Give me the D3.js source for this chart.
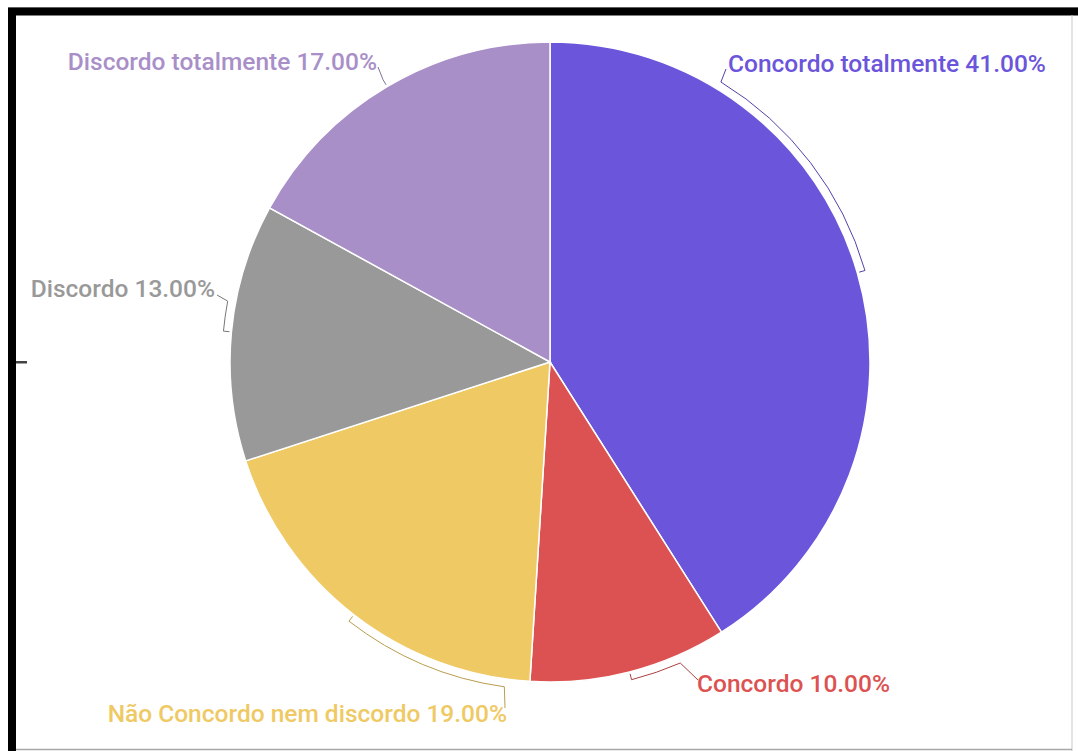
<!DOCTYPE html>
<html>
<head>
<meta charset="utf-8">
<script src="https://cdn.jsdelivr.net/npm/d3@7"></script>
<style>
  html, body { margin: 0; padding: 0; background: #fff; }
  svg { display: block; }
  .lbl { font-family: Roboto, "Noto Sans", sans-serif; font-weight: 500; font-size: 24.5px; }
</style>
</head>
<body>
<svg id="chart" width="1078" height="751"></svg>
<script>
// Survey answers (share of respondents, %)
const categories = [
  "Concordo totalmente",
  "Concordo",
  "Não Concordo nem discordo",
  "Discordo",
  "Discordo totalmente"
];
const values = [41, 10, 19, 13, 17];
const colors = ["#6b55da", "#dc5252", "#efc964", "#999999", "#a98fc8"];

// Label layout: where each leader bracket stops (degrees clockwise from 12 o'clock),
// where the leader meets its label and where the text sits, relative to the pie centre.
const labelLayout = [
  { end: 31.4,  lead: [176, -293], text: [178, -290], anchor: "start" },
  { end: 156.6, lead: [148, 318],  text: [147, 330],  anchor: "start" },
  { end: 188.0, lead: [-45, 346],  text: [-43, 360],  anchor: "end" },
  { end: 280.7, lead: [-333, -67], text: [-335, -65], anchor: "end" },
  { end: 329.4, lead: [-172, -295],text: [-173, -292],anchor: "end" }
];

const W = 1078, H = 751;
const cx = 550, cy = 362, R = 320, rTick = 328;

const svg = d3.select("#chart");

// window frame
svg.append("line").attr("x1", 8).attr("x2", W).attr("y1", 7.5).attr("y2", 7.5)
  .attr("stroke", "#bdbdbd").attr("stroke-width", 1);
svg.append("rect").attr("x", 12).attr("y", 11.5).attr("width", W + 20).attr("height", H + 20)
  .attr("fill", "none").attr("stroke", "#000").attr("stroke-width", 8);
svg.append("rect").attr("x", 1071.5).attr("y", 15).attr("width", 1).attr("height", H)
  .attr("fill", "#c8c8c8");
svg.append("line").attr("x1", 16).attr("x2", 1072).attr("y1", 749.5).attr("y2", 749.5)
  .attr("stroke", "#a8a8a8").attr("stroke-width", 1.5);
svg.append("rect").attr("x", 16).attr("y", 361).attr("width", 11).attr("height", 2.5)
  .attr("fill", "#444");

const g = svg.append("g").attr("transform", `translate(${cx},${cy})`);

const pie = d3.pie().sort(null).value(d => d.value).startAngle(0).endAngle(2 * Math.PI);
const data = categories.map((c, i) => ({ name: c, value: values[i], color: colors[i], layout: labelLayout[i] }));
const arcs = pie(data);

const arcGen = d3.arc().innerRadius(0).outerRadius(R);

g.selectAll("path.slice")
  .data(arcs)
  .join("path")
  .attr("class", "slice")
  .attr("d", arcGen)
  .attr("fill", d => d.data.color)
  .attr("stroke", "#fff")
  .attr("stroke-width", 1.5);

const total = d3.sum(values);
const rad = deg => deg * Math.PI / 180;

// leader brackets: tick out from the slice middle, run along the rim, then to the label
g.selectAll("path.leader")
  .data(arcs)
  .join("path")
  .attr("class", "leader")
  .attr("fill", "none")
  .attr("stroke", d => d3.color(d.data.color).darker(0.7))
  .attr("stroke-width", 1)
  .attr("d", d => {
    const mid = (d.startAngle + d.endAngle) / 2;
    const end = rad(d.data.layout.end);
    const p0 = d3.pointRadial(mid, R + 2);
    const p1 = d3.pointRadial(mid, rTick);
    const p2 = d3.pointRadial(end, rTick);
    const sweep = end > mid ? 1 : 0;
    const large = Math.abs(end - mid) > Math.PI ? 1 : 0;
    const [lx, ly] = d.data.layout.lead;
    let path = `M${p0[0]},${p0[1]}L${p1[0]},${p1[1]}`;
    if (Math.abs(end - mid) > 1e-3) path += `A${rTick},${rTick} 0 ${large} ${sweep} ${p2[0]},${p2[1]}`;
    return path + `L${lx},${ly}`;
  });

g.selectAll("text.lbl")
  .data(arcs)
  .join("text")
  .attr("class", "lbl")
  .attr("x", d => d.data.layout.text[0])
  .attr("y", d => d.data.layout.text[1])
  .attr("text-anchor", d => d.data.layout.anchor)
  .attr("fill", d => d.data.color)
  .text(d => `${d.data.name} ${(d.data.value / total * 100).toFixed(2)}%`);
</script>
</body>
</html>
